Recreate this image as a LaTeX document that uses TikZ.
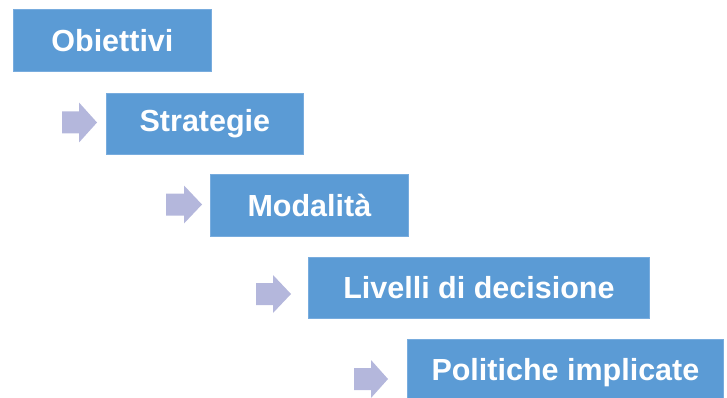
\documentclass[tikz,border=0pt]{standalone}
\usepackage{fontspec}
\setmainfont{Liberation Sans}
\definecolor{boxblue}{RGB}{91,155,213}
\definecolor{boxedge}{RGB}{120,172,222}
\definecolor{arrowlav}{RGB}{180,183,220}
\tikzset{
  stagebox/.style={fill=boxblue, draw=boxedge, line width=0.8pt, text=white,
    font=\fontsize{30.5}{33}\selectfont\bfseries, inner sep=0pt, anchor=north west},
  blockarrow/.style={fill=arrowlav, draw=none}
}
\begin{document}
\begin{tikzpicture}[x=1pt,y=-1pt]
\useasboundingbox (0,0) rectangle (727,398);
\begin{scope}
\clip (0,0) rectangle (727,398);
\node[stagebox, minimum width=198pt, minimum height=62pt] (b1) at (13,9) {Obiettivi};
\node[stagebox, minimum width=197pt, minimum height=61pt] (b2) at (106,93) {Strategie};
\node[stagebox, minimum width=198pt, minimum height=62pt] (b3) at (210,174) {Modalità};
\node[stagebox, minimum width=341pt, minimum height=61pt] (b4) at (308,257) {Livelli di decisione};
\node[stagebox, minimum width=316pt, minimum height=66pt] (b5) at (407,339) {\raisebox{2pt}{Politiche implicate}};
\end{scope}
\fill[blockarrow] (62,111.5) -- (79,111.5) -- (79,102.5) -- (97,122.5) -- (79,142.5) -- (79,133.5) -- (62,133.5) -- cycle;
\fill[blockarrow] (166,193.5) -- (184,193.5) -- (184,185.5) -- (202,204.5) -- (184,223.5) -- (184,215.5) -- (166,215.5) -- cycle;
\fill[blockarrow] (256,283) -- (273,283) -- (273,275) -- (291,294) -- (273,313) -- (273,305) -- (256,305) -- cycle;
\fill[blockarrow] (354,368) -- (371,368) -- (371,360) -- (388,379) -- (371,398) -- (371,390) -- (354,390) -- cycle;
\end{tikzpicture}
\end{document}
